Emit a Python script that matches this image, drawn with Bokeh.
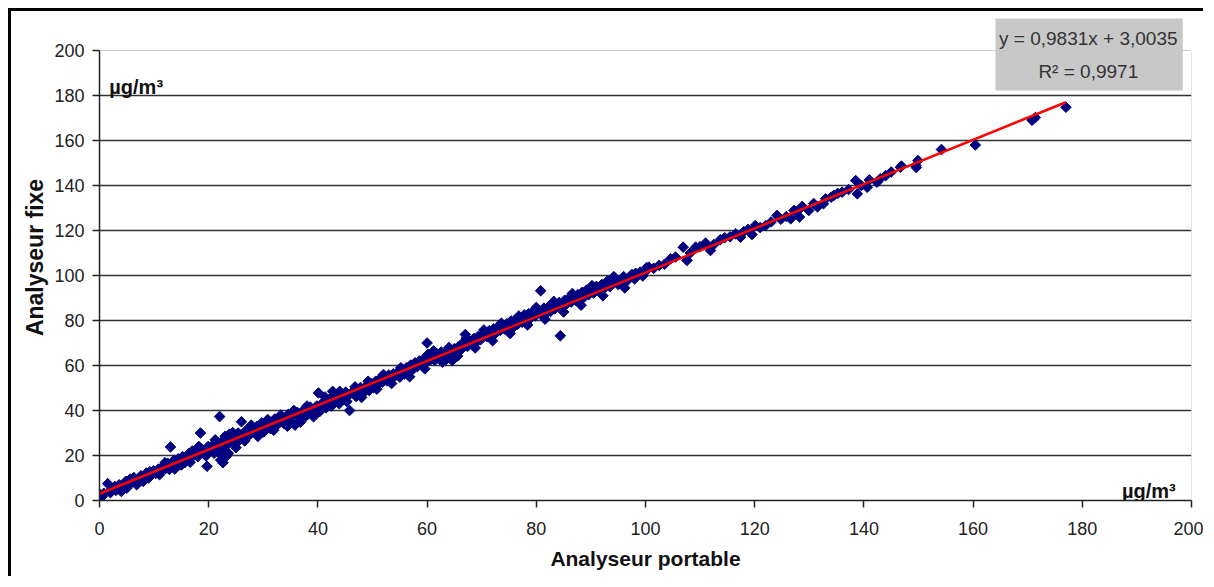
from bokeh.plotting import figure
from bokeh.models import Range1d, FixedTicker, Label, BoxAnnotation
from bokeh.embed import file_html
from bokeh.resources import INLINE

# ---- data (µg/m3) ----
portable = [
    0.2, 0.5, 0.8, 1.5, 2.2, 2.8, 3.2, 3.6, 4.0, 4.3, 4.8, 5.2, 5.6, 6.0, 6.3, 6.8, 7.2, 7.6, 8.2, 8.6, 9.0, 9.5, 9.9,
    10.3, 10.8, 11.2, 11.7, 12.1, 12.5, 12.8, 13.0, 13.3, 13.6, 14.0, 14.4, 14.8, 15.2, 15.6, 16.0, 16.4, 16.8, 17.2, 17.6, 18.0, 18.5, 18.7, 19.2, 19.7, 19.9,
    20.3, 20.7, 21.0, 21.4, 21.8, 22.0, 22.2, 22.4, 22.6, 22.8, 23.0, 23.2, 23.5, 23.8, 24.2, 24.6, 25.0, 25.4, 25.8, 26.0, 26.3, 26.8, 27.2, 27.6, 28.0, 28.5, 28.9, 29.3, 29.7,
    30.1, 30.5, 30.9, 31.3, 31.7, 32.1, 32.5, 33.0, 33.4, 33.8, 34.2, 34.6, 35.0, 35.4, 35.8, 36.2, 36.6, 37.0, 37.4, 37.8, 38.2, 38.6, 39.0, 39.4, 39.8,
    40.1, 40.3, 40.7, 41.1, 41.5, 41.9, 42.3, 42.7, 43.1, 43.5, 43.9, 44.3, 44.7, 45.1, 45.5, 45.8, 46.2, 46.6, 47.0, 47.4, 47.8, 48.2, 48.6, 49.0, 49.4, 49.8,
    50.2, 50.6, 51.0, 51.4, 51.8, 52.2, 52.6, 53.0, 53.4, 53.8, 54.2, 54.6, 55.0, 55.4, 55.8, 56.2, 56.6, 57.0, 57.4, 57.8, 58.2, 58.6, 59.0, 59.4, 59.8, 60.0, 60.2,
    60.6, 61.0, 61.4, 61.8, 62.2, 62.6, 63.0, 63.4, 63.8, 64.2, 64.6, 65.0, 65.4, 65.8, 66.2, 66.6, 67.0, 67.4, 67.8, 68.2, 68.6, 69.0, 69.4, 69.8,
    70.2, 70.6, 71.0, 71.4, 71.8, 72.2, 72.6, 73.0, 73.4, 73.8, 74.2, 74.6, 75.0, 75.4, 75.8, 76.2, 76.6, 77.0, 77.4, 77.8, 78.2, 78.6, 79.0, 79.4, 79.8,
    80.2, 80.8, 81.0, 81.4, 81.8, 82.2, 82.6, 83.0, 83.4, 83.8, 84.2, 84.4, 84.8, 85.2, 85.6, 86.0, 86.4, 86.8, 87.2, 87.6, 88.0, 88.4, 88.8, 89.2, 89.6,
    90.0, 90.5, 91.0, 91.5, 92.0, 92.5, 93.0, 93.5, 94.0, 94.5, 95.0, 95.5, 96.0, 96.5, 97.0, 97.5, 98.0, 98.5, 99.0, 99.5, 100.0, 100.2,
    100.6, 101.5, 102.5, 103.5, 104.6, 105.5, 106.9, 107.6, 108.2, 109.2, 110.0, 111.0, 111.9, 112.5, 113.7, 114.5, 115.5, 116.5, 117.4, 118.0, 118.8, 119.5,
    120.1, 121.0, 122.0, 123.0, 124.1, 124.8, 125.8, 126.6, 127.2, 127.8, 128.2, 128.7, 129.9, 130.8, 131.5, 132.6, 133.0, 134.0, 134.5, 135.2, 136.0, 137.2,
    138.5, 138.8, 139.5, 140.6, 141.0, 142.4, 143.0, 144.0, 145.0, 146.7, 146.9, 149.5, 149.6, 149.9, 154.2, 160.4, 170.8, 171.4, 177.0,
    2.0, 3.0, 5.0, 6.5, 8.0, 9.2, 11.0, 12.0, 13.8, 15.0, 16.6, 17.0, 18.2, 19.5, 21.2, 22.6, 23.6, 24.4, 25.2, 26.6,
    27.8, 29.0, 30.8, 31.9, 33.2, 34.4, 35.6, 36.8, 38.0, 39.2, 41.3, 42.5, 44.0, 45.3, 46.8, 48.0, 49.2, 50.8, 52.0, 53.5,
    55.2, 56.8, 58.4, 59.6, 61.2, 62.8, 64.0, 65.6, 67.2, 68.8, 70.4, 72.0, 73.6, 75.2, 76.8, 78.4, 80.0, 81.6, 83.2, 85.0,
    86.6, 88.2, 90.2, 92.2, 94.2, 96.2, 98.2,
]
fixe = [
    2.5, 1.8, 3.2, 7.5, 5.0, 6.2, 5.5, 7.0, 4.0, 6.5, 8.5, 7.2, 9.5, 8.2, 10.2, 7.0, 9.8, 11.0, 10.5, 12.2, 10.0, 11.6, 13.2,
    12.0, 14.0, 13.0, 15.2, 14.2, 16.5, 13.8, 23.8, 15.5, 17.8, 15.0, 18.5, 17.2, 19.5, 16.8, 18.2, 21.0, 19.0, 20.8, 22.5, 19.5, 30.0, 23.0, 21.5, 15.2, 24.0,
    22.0, 24.5, 21.0, 25.5, 23.0, 37.3, 18.0, 20.0, 26.5, 22.5, 28.5, 19.5, 25.0, 29.5, 26.8, 28.0, 23.5, 30.0, 27.5, 35.0, 29.2, 31.0, 28.5, 30.5, 32.0, 29.8, 33.0, 31.5, 34.5,
    30.5, 33.2, 35.5, 32.0, 34.8, 36.2, 33.5, 35.8, 37.2, 34.2, 36.5, 38.3, 35.2, 37.8, 33.5, 39.2, 36.8, 38.8, 40.2, 37.5, 39.8, 41.5, 38.6, 40.8, 42.0,
    47.8, 39.5, 42.5, 44.0, 41.2, 43.6, 45.5, 48.5, 44.2, 46.3, 43.0, 47.2, 45.0, 48.2, 46.6, 40.0, 47.8, 49.0, 46.2, 48.4, 50.2, 47.5, 49.6, 51.2, 48.9, 52.0,
    50.2, 53.0, 51.5, 54.2, 52.6, 55.0, 53.2, 55.8, 54.0, 56.3, 55.5, 57.0, 54.8, 57.8, 56.2, 59.0, 57.3, 60.2, 58.3, 61.2, 59.5, 62.0, 60.4, 63.0, 61.5, 70.0, 65.0,
    62.5, 64.0, 62.3, 65.2, 63.5, 66.0, 64.6, 62.5, 66.8, 65.2, 62.2, 67.5, 66.0, 68.5, 67.0, 70.2, 73.8, 68.5, 71.0, 69.5, 72.0, 70.3, 73.0, 71.5,
    72.5, 74.5, 72.8, 75.5, 73.6, 76.3, 74.5, 77.2, 75.6, 77.8, 76.2, 78.5, 77.5, 79.8, 77.0, 80.2, 78.4, 81.0, 79.2, 82.5, 80.0, 83.0, 81.2, 84.0, 82.0,
    84.5, 93.2, 82.5, 85.5, 83.2, 86.0, 84.0, 87.2, 85.2, 86.5, 88.0, 73.2, 86.8, 89.0, 87.5, 90.0, 88.2, 90.8, 89.0, 91.5, 89.8, 92.5, 90.5, 93.5, 91.5,
    94.0, 92.2, 95.2, 93.0, 96.0, 94.5, 97.5, 95.0, 96.8, 98.5, 96.0, 98.0, 99.5, 97.3, 99.0, 100.5, 98.5, 100.2, 101.5, 99.8, 101.8, 103.5,
    103.7, 103.2, 104.5, 105.0, 107.4, 108.2, 112.6, 106.7, 110.0, 112.6, 112.8, 114.4, 111.1, 113.8, 115.9, 116.8, 117.2, 118.5, 117.0, 119.5, 120.5, 118.2,
    122.2, 121.3, 122.2, 123.8, 126.7, 125.0, 126.2, 125.2, 128.9, 128.6, 126.0, 130.7, 128.9, 132.0, 130.5, 131.9, 134.1, 134.8, 135.6, 136.5, 137.0, 138.2,
    142.2, 136.3, 140.0, 139.2, 142.5, 141.5, 143.0, 144.4, 146.0, 148.1, 148.6, 148.9, 148.0, 151.1, 156.0, 158.0, 169.0, 170.2, 174.8,
    3.5, 4.5, 5.5, 9.0, 8.5, 12.8, 11.5, 16.8, 14.0, 15.8, 17.0, 22.0, 24.0, 19.8, 27.0, 16.8, 21.0, 30.2, 25.8, 26.5,
    33.5, 28.5, 36.0, 31.2, 38.0, 33.0, 40.0, 34.8, 42.0, 37.2, 46.0, 42.0, 48.5, 44.0, 50.5, 45.8, 53.0, 49.5, 56.0, 52.0,
    59.0, 55.0, 61.0, 58.5, 66.5, 61.5, 68.0, 64.2, 72.2, 67.8, 75.8, 71.0, 78.8, 74.2, 82.0, 78.0, 85.8, 80.6, 88.5, 83.8,
    92.0, 86.8, 95.5, 91.0, 99.5, 94.5, 101.0,
]
# linear trend as printed on the chart
slope = 0.9831
intercept = 3.0035
trend_x = [0.0, 177.0]
trend_y = [slope * v + intercept for v in trend_x]
ticks = [0, 20, 40, 60, 80, 100, 120, 140, 160, 180, 200]
equation_line1 = "y = 0,9831x + 3,0035"
equation_line2 = "R\u00b2 = 0,9971"
unit_text = "\u00b5g/m\u00b3"

FONT = "Liberation Sans"
AX_MIN, AX_MAX = ticks[0], ticks[-1]

# y range extends above 200 so that the equation box (above the plot area) can be drawn
p = figure(width=1195, height=568, output_backend="svg", toolbar_location=None,
           x_range=Range1d(AX_MIN, AX_MAX), y_range=Range1d(AX_MIN, 216),
           min_border_left=88, min_border_right=15, min_border_top=3, min_border_bottom=79)
p.styles = {"margin-left": "8px", "margin-top": "8px",
            "border-top": "3px solid black", "border-left": "3px solid black"}

p.outline_line_color = None

p.xgrid.grid_line_color = None
p.ygrid.grid_line_color = "#333333"
p.ygrid.grid_line_width = 1.5
p.ygrid.ticker = FixedTicker(ticks=ticks[1:-1])

for ax in (p.xaxis[0], p.yaxis[0]):
    ax.ticker = FixedTicker(ticks=ticks)
    ax.bounds = (AX_MIN, AX_MAX)
    ax.axis_line_color = "#222222"
    ax.axis_line_width = 1.5
    ax.major_tick_line_color = "#222222"
    ax.major_tick_line_width = 1.5
    ax.major_tick_in = 0
    ax.major_tick_out = 7
    ax.minor_tick_line_color = None
    ax.major_label_text_font = FONT
    ax.major_label_text_font_size = "18px"
    ax.major_label_text_color = "#222222"
    ax.axis_label_text_font = FONT
    ax.axis_label_text_font_style = "bold"
    ax.axis_label_text_color = "#111111"

p.xaxis.axis_label = "Analyseur portable"
p.yaxis.axis_label = "Analyseur fixe"
p.xaxis.axis_label_text_font_size = "21px"
p.yaxis.axis_label_text_font_size = "23px"
p.xaxis.major_label_standoff = 14
p.yaxis.major_label_standoff = 8
p.xaxis.axis_label_standoff = 9
p.yaxis.axis_label_standoff = 3

# plot-area border (top and right, dotted grey)
p.segment(x0=[AX_MIN, AX_MAX], y0=[AX_MAX, AX_MIN], x1=[AX_MAX, AX_MAX], y1=[AX_MAX, AX_MAX],
          line_color="#999999", line_dash="1 1", line_width=1)

p.scatter(portable, fixe, marker="square", angle=0.785398, size=7.5,
          fill_color="#000080", line_color="#000080")
p.line(trend_x, trend_y, line_color="#ff0000", line_width=2.5)

p.add_layout(Label(x=1.8, y=183.6, text=unit_text, text_font=FONT, text_font_size="20px",
                   text_font_style="bold", text_color="#111111", text_baseline="alphabetic"))
p.add_layout(Label(x=197.1, y=4.4, text=unit_text, text_font=FONT, text_font_size="20px",
                   text_font_style="bold", text_color="#111111", text_align="right",
                   text_baseline="alphabetic"))
p.add_layout(BoxAnnotation(left=164.1, right=198.4, bottom=182.2, top=214.2,
                           fill_color="#c8c8c8", fill_alpha=1.0, line_color=None))
p.add_layout(Label(x=181.1, y=205.3, text=equation_line1, text_font=FONT, text_font_size="19px",
                   text_color="#333333", text_align="center", text_baseline="middle"))
p.add_layout(Label(x=181.1, y=190.7, text=equation_line2, text_font=FONT, text_font_size="19px",
                   text_color="#333333", text_align="center", text_baseline="middle"))

open("out.html", "w").write(file_html(p, INLINE))
